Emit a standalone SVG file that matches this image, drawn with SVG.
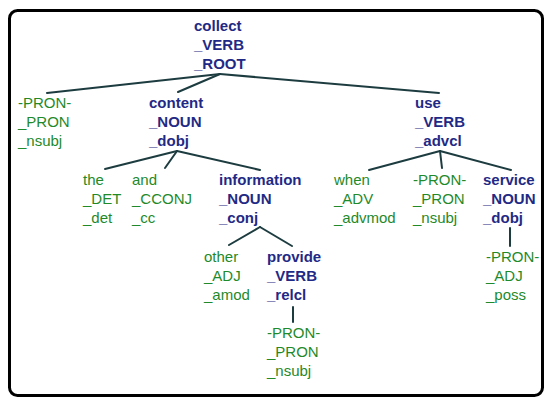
<svg xmlns="http://www.w3.org/2000/svg" width="550" height="404" viewBox="0 0 550 404">
<style>
text{font-family:"Liberation Sans",Arial,sans-serif;font-size:15px}
.h{font-weight:bold;fill:#1f2a86}
.l{fill:#1f8a2a}
#edges line{stroke:#1d3c40;stroke-width:2;stroke-linecap:round}
</style>
<rect x="0" y="0" width="550" height="404" fill="#ffffff"/>
<rect x="9.5" y="10.5" width="533" height="385" rx="8" ry="8" fill="#ffffff" stroke="#000000" stroke-width="3"/>
<g id="edges">
<line x1="220" y1="74" x2="47" y2="93"/>
<line x1="220" y1="74" x2="178" y2="92"/>
<line x1="220" y1="74" x2="439" y2="93"/>
<line x1="177" y1="151" x2="105" y2="169"/>
<line x1="177" y1="151" x2="165" y2="168"/>
<line x1="177" y1="151" x2="260" y2="170"/>
<line x1="260" y1="227" x2="229" y2="245"/>
<line x1="260" y1="227" x2="292" y2="246"/>
<line x1="293" y1="307" x2="293" y2="322"/>
<line x1="440" y1="151" x2="369" y2="170"/>
<line x1="440" y1="151" x2="442" y2="168"/>
<line x1="440" y1="151" x2="511" y2="170"/>
<line x1="510" y1="228" x2="510" y2="246"/>
</g>
<g id="n-collect" class="h"><text x="194" y="31">collect</text><text x="194" y="50">_VERB</text><text x="194" y="69">_ROOT</text></g>
<g id="n-pron1" class="l"><text x="18" y="108">-PRON-</text><text x="18" y="127">_PRON</text><text x="18" y="146">_nsubj</text></g>
<g id="n-content" class="h"><text x="149" y="108">content</text><text x="149" y="127">_NOUN</text><text x="149" y="146">_dobj</text></g>
<g id="n-use" class="h"><text x="415" y="108">use</text><text x="415" y="127">_VERB</text><text x="415" y="146">_advcl</text></g>
<g id="n-the" class="l"><text x="83" y="185">the</text><text x="83" y="204">_DET</text><text x="83" y="223">_det</text></g>
<g id="n-and" class="l"><text x="132" y="185">and</text><text x="132" y="204">_CCONJ</text><text x="132" y="223">_cc</text></g>
<g id="n-information" class="h"><text x="219" y="185">information</text><text x="219" y="204">_NOUN</text><text x="219" y="223">_conj</text></g>
<g id="n-when" class="l"><text x="334" y="185">when</text><text x="334" y="204">_ADV</text><text x="334" y="223">_advmod</text></g>
<g id="n-pron2" class="l"><text x="413" y="185">-PRON-</text><text x="413" y="204">_PRON</text><text x="413" y="223">_nsubj</text></g>
<g id="n-service" class="h"><text x="483" y="185">service</text><text x="483" y="204">_NOUN</text><text x="483" y="223">_dobj</text></g>
<g id="n-other" class="l"><text x="204" y="262">other</text><text x="204" y="281">_ADJ</text><text x="204" y="300">_amod</text></g>
<g id="n-provide" class="h"><text x="267" y="262">provide</text><text x="267" y="281">_VERB</text><text x="267" y="300">_relcl</text></g>
<g id="n-pron4" class="l"><text x="486" y="262">-PRON-</text><text x="486" y="281">_ADJ</text><text x="486" y="300">_poss</text></g>
<g id="n-pron3" class="l"><text x="267" y="338">-PRON-</text><text x="267" y="357">_PRON</text><text x="267" y="376">_nsubj</text></g>
</svg>
